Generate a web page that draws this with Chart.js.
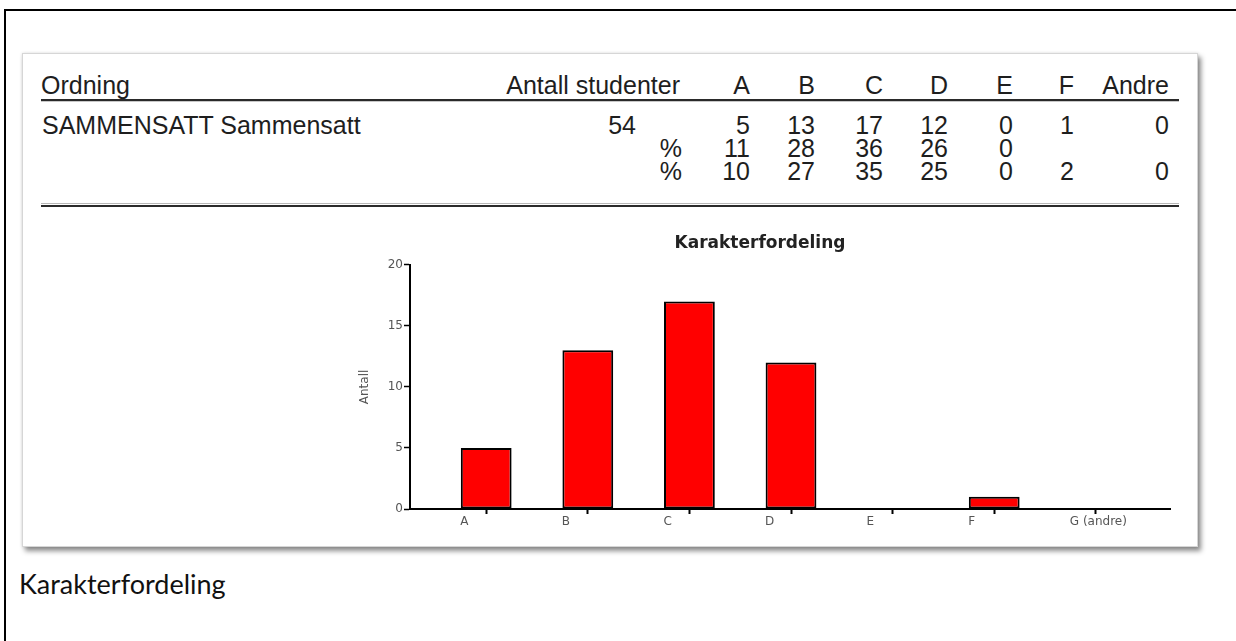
<!DOCTYPE html>
<html>
<head>
<meta charset="utf-8">
<script src="https://cdn.jsdelivr.net/npm/chart.js@4.4.1/dist/chart.umd.min.js"></script>
<style>
html,body{margin:0;padding:0;background:#fff;width:1236px;height:641px;overflow:hidden}
.frame{position:absolute;left:4px;top:9px;width:1300px;height:700px;border-top:2.5px solid #000;border-left:2.5px solid #000}
.panel{position:absolute;left:22px;top:53px;width:1176px;height:494px;background:#fff;border:1px solid #d6d6d6;box-sizing:border-box;
  box-shadow:3px 4px 5px rgba(0,0,0,.45),0 0 3px rgba(0,0,0,.12)}
.t{position:absolute;font:25px/25px "Liberation Sans",Arial,sans-serif;color:#1e1e1e;white-space:nowrap}
.r{transform:translateX(-100%)}
.hl{position:absolute;left:41px;width:1138px}
#wrap{position:absolute;left:350px;top:225px;width:828px;height:314px}
.cap{position:absolute;left:19px;top:570px;font:27px/1 Lato,sans-serif;color:#111}
</style>
</head>
<body>
<div class="frame"></div>
<div class="panel"></div>
<div id="tbl"></div>
<div id="wrap"><canvas id="c"></canvas></div>
<div class="cap">Karakterfordeling</div>
<script>
// table
const headers = ['A','B','C','D','E','F','Andre'];
const ordning = 'SAMMENSATT Sammensatt';
const antallStudenter = 54;
const counts = [5,13,17,12,0,1,0];
const pctA = [11,28,36,26,0,null,null];
const pctB = [10,27,35,25,0,2,0];

// chart
const categories = ['A','B','C','D','E','F','G (andre)'];
const values = [5,13,17,12,0,1,0];

const colRight = [750,815,883,948,1013,1074,1169];
const tbl = document.getElementById('tbl');

function txt(s, x, baseline, right){
  const d = document.createElement('div');
  d.className = 't' + (right ? ' r' : '');
  d.style.left = x + 'px';
  d.style.top = (baseline - 21.2) + 'px';
  d.textContent = s;
  tbl.appendChild(d);
}
function line(y, h, color){
  const d = document.createElement('div');
  d.className = 'hl';
  d.style.top = y + 'px';
  d.style.height = h + 'px';
  d.style.background = color;
  tbl.appendChild(d);
}

txt('Ordning', 41, 94);
txt('Antall studenter', 680, 94, true);
headers.forEach((h,i) => txt(h, colRight[i], 94, true));
line(99, 2, '#2a2a2a');
line(101, 1, '#c8c8c8');

txt(ordning, 42, 134);
txt(String(antallStudenter), 636, 134, true);
counts.forEach((v,i) => txt(String(v), colRight[i], 134, true));

txt('%', 682, 157, true);
pctA.forEach((v,i) => { if(v !== null) txt(String(v), colRight[i], 157, true); });
txt('%', 682, 180, true);
pctB.forEach((v,i) => { if(v !== null) txt(String(v), colRight[i], 180, true); });

line(203, 1, '#b8b8b8');
line(205, 2, '#2a2a2a');

new Chart(document.getElementById('c'), {
  type: 'bar',
  data: {
    datasets: [{
      data: values.map((v,i) => ({x: i, y: v})),
      backgroundColor: '#ff0000',
      borderColor: '#000',
      borderWidth: 2,
      borderSkipped: false,
      barPercentage: 0.5,
      categoryPercentage: 1
    }]
  },
  options: {
    animation: false,
    responsive: true,
    maintainAspectRatio: false,
    layout: {padding: {right: 8}},
    plugins: {
      legend: {display: false},
      tooltip: {enabled: false},
      title: {
        display: true,
        text: 'Karakterfordeling',
        color: '#222',
        font: {family: 'DejaVu Sans', size: 17, weight: 'bold'},
        padding: {top: 8, bottom: 11.5}
      }
    },
    scales: {
      x: {
        type: 'linear', min: -0.75, max: 6.73, bounds: 'data', offset: false,
        afterBuildTicks: s => { s.ticks = categories.map((c,i) => ({value: i})); },
        grid: {display: true, offset: false, drawOnChartArea: false, tickLength: 5, tickColor: '#000', tickWidth: 2},
        border: {display: true, color: '#000', width: 2},
        ticks: {
          autoSkip: false, maxRotation: 0,
          align: 'start', labelOffset: -26, padding: 1,
          color: '#555', font: {family: 'DejaVu Sans', size: 12},
          callback: v => categories[v] ?? ''
        },
        afterFit: s => { s.height = 30; }
      },
      y: {
        min: 0, max: 20, bounds: 'data',
        grid: {drawOnChartArea: false, tickLength: 6, tickColor: '#000', tickWidth: 1.5},
        border: {display: true, color: '#000', width: 2},
        ticks: {stepSize: 5, padding: 1, color: '#555', font: {family: 'DejaVu Sans', size: 12}},
        title: {display: true, text: 'Antall', color: '#555', font: {family: 'DejaVu Sans', size: 12}, padding: {top: 8, bottom: 0}},
        afterFit: s => { s.width = 60; }
      }
    }
  }
});
</script>
</body>
</html>
